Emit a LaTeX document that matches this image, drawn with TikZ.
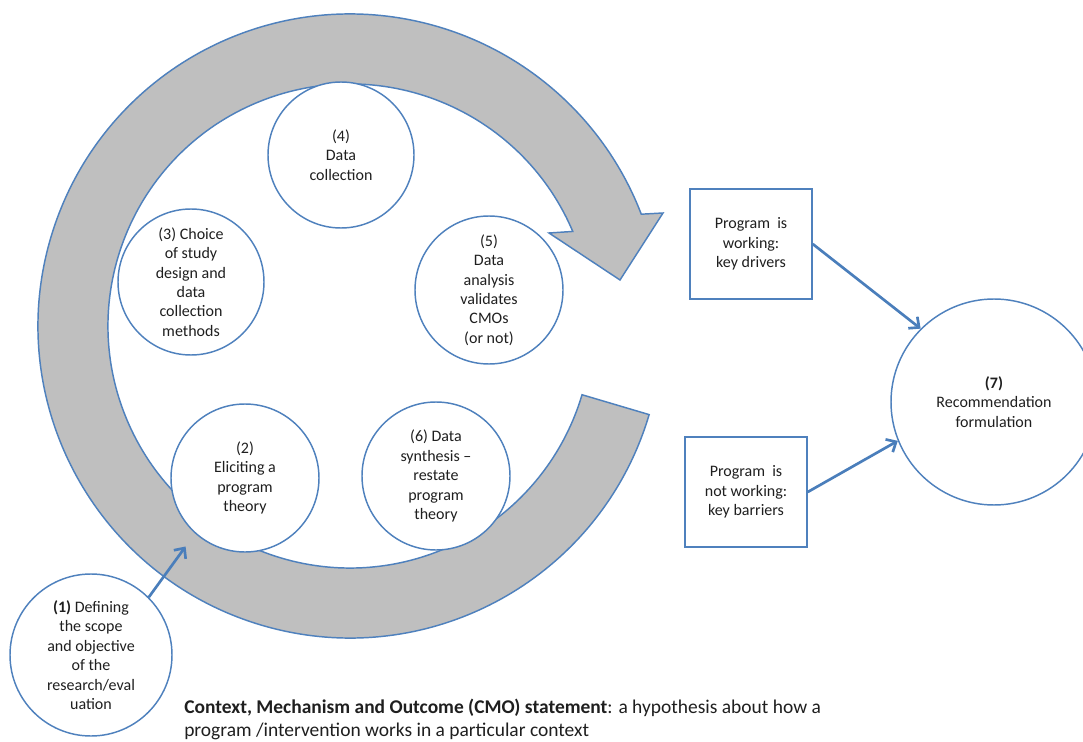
\documentclass[tikz,border=0pt]{standalone}
\usepackage{fontspec}
\setmainfont{Carlito}
\usetikzlibrary{arrows.meta}
\definecolor{ublue}{HTML}{4F81BD}
\definecolor{ablue}{HTML}{4A7EBB}
\definecolor{ringgray}{HTML}{BFBFBF}
\definecolor{txt}{HTML}{1F1F1F}
\begin{document}
\begin{tikzpicture}[x=0.75pt, y=-0.75pt,
  cnode/.style={circle, draw=ublue, fill=white, line width=1.1pt, inner sep=0pt, align=center, text=txt, font=\fontsize{12}{14.6}\selectfont},
  boxnode/.style={rectangle, draw=ublue, fill=white, line width=1.1pt, inner sep=0pt, minimum width=91.5pt, minimum height=82.5pt, align=center, text=txt, font=\fontsize{12}{14.6}\selectfont},
  arr/.style={draw=ablue, line width=2pt, -{Straight Barb[length=6pt, width=11pt, line width=2pt]}}]
\useasboundingbox (0,0) rectangle (1083,742);
% circular arrow
\path[draw=ublue, fill=ringgray, line width=1.1pt]
  (350,326) ++(16.5:312) arc[start angle=16.5, end angle=339, radius=312]
  -- (663,213) -- (620,280) -- (549,233)
  -- ([shift={(337:242)}]350,326)
  arc[start angle=337, end angle=16.5, radius=242] -- cycle;
% circles
\node[cnode, minimum size=109.5pt] (c4) at (341,155) {(4)\\Data\\collection};
\node[cnode, minimum size=109.5pt] (c3) at (191,282) {(3) Choice\\of study\\design and\\data\\collection\\methods};
\node[cnode, minimum size=111pt] (c5) at (489,290) {(5)\\Data\\analysis\\validates\\CMOs\\(or not)};
\node[cnode, minimum size=111pt] (c2) at (245,478) {(2)\\Eliciting a\\program\\theory};
\node[cnode, minimum size=111pt] (c6) at (436,476) {(6) Data\\synthesis --\\restate\\program\\theory};
\node[cnode, minimum size=121.5pt] (c1) at (91,655) {\textbf{(1)} Defining\\the scope\\and objective\\of the\\research/eval\\uation};
\node[cnode, minimum size=154.5pt] (c7) at (994,402) {\textbf{(7)}\\Recommendation\\formulation};
% boxes
\node[boxnode] (b1) at (751,244) {Program\ \ is\\working:\\key drivers};
\node[boxnode] (b2) at (746,492) {Program\ \ is\\not working:\\key barriers};
% connectors
\draw[arr] (b1.east) -- (c7.135);
\draw[arr] (b2.east) -- (c7.202);
\draw[arr, shorten >=12pt] (c1.45) -- (c2.228);
% caption
\node[anchor=north west, inner sep=0pt, align=left, text=txt, font=\fontsize{14.6}{17.1}\selectfont] (cap) at (184,699)
  {\textbf{Context, Mechanism and Outcome (CMO) statement}: a hypothesis about how a\\program /intervention works in a particular context};
\end{tikzpicture}
\end{document}
